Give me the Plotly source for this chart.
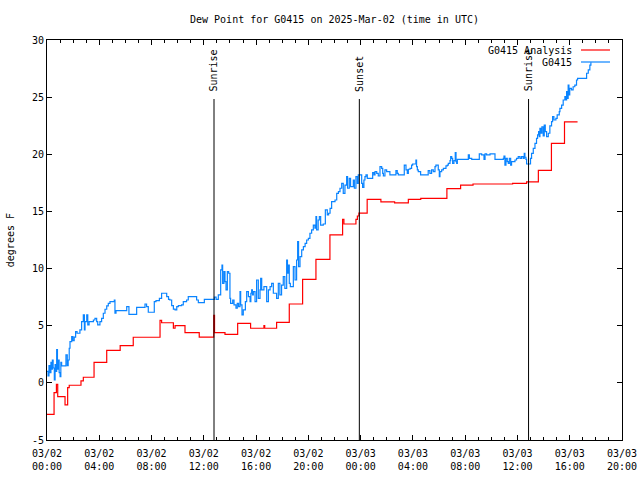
import pandas as pd
import plotly.graph_objects as go

# ---------------- data (hours after 2025-03-02 00:00 UTC) ----------------
analysis_hours = [0.0, 0.54, 0.72, 0.82, 1.38, 1.58, 1.7, 2.6, 2.78, 3.6, 4.57, 5.6, 6.6,
                  8.65, 8.77, 9.67, 9.8, 10.56, 11.65, 12.76, 12.82, 13.62, 14.59, 15.58,
                  16.6, 16.66, 17.57, 18.54, 19.56, 20.58, 21.65, 22.62, 22.72, 23.64,
                  23.75, 23.87, 24.5, 25.55, 26.6, 27.65, 28.6, 30.6, 31.65, 32.6, 35.63,
                  36.7, 37.6, 38.6, 39.6, 40.6]
analysis_dewpt = [-2.75, -0.86, -0.13, -1.21, -1.93, -0.42, -0.21, 0.17, 0.49, 1.8, 2.85, 3.25, 3.99,
                  5.47, 5.26, 4.78, 5.0, 4.4, 4.0, 5.9, 4.4, 4.25, 5.21, 4.78,
                  5.0, 4.78, 5.3, 6.9, 9.06, 10.81, 12.94, 14.31, 13.9, 14.3,
                  14.6, 14.85, 16.06, 15.83, 15.74, 16.06, 16.15, 17.0, 17.31, 17.4, 17.45,
                  17.58, 18.6, 20.96, 22.83, 22.83]

obs_hours = [0.0, 0.08, 0.15, 0.22, 0.3, 0.36, 0.41, 0.47, 0.56, 0.62, 0.68, 0.74, 0.8, 0.87,
             0.93, 1.0, 1.06, 1.12, 1.45, 1.55, 1.62, 1.7, 1.76, 1.89, 1.98, 2.08, 2.19, 2.3,
             2.52, 2.65, 2.78, 2.86, 2.91, 3.04, 3.12, 3.22, 3.42, 3.55, 3.67, 3.8, 3.88, 4.05,
             4.18, 4.31, 4.44, 4.57, 4.69, 4.82, 5.15, 5.2, 5.28, 6.1, 6.27, 6.86, 7.5, 7.62,
             7.75, 8.21, 8.34, 8.6, 8.77, 9.1, 9.16, 9.3, 9.4, 9.54, 9.67, 9.8, 9.93, 10.05,
             10.3, 10.43, 10.68, 10.81, 11.32, 11.45, 11.58, 11.96, 12.04, 12.73, 12.81, 12.94,
             13.11, 13.29, 13.39, 13.44, 13.54, 13.62, 13.7, 13.8, 13.9, 14.0, 14.05, 14.21,
             14.31, 14.46, 14.56, 14.66, 14.77, 14.82, 14.92, 15.02, 15.18, 15.28, 15.41, 15.54,
             15.6, 15.66, 15.72, 15.79, 15.92, 16.04, 16.17, 16.3, 16.35, 16.43, 16.6, 16.75,
             16.81, 16.94, 17.07, 17.19, 17.32, 17.57, 17.7, 17.82, 17.95, 18.08, 18.2, 18.34,
             18.4, 18.47, 18.54, 18.62, 18.78, 18.85, 18.98, 19.1, 19.18, 19.25, 19.36, 19.49,
             19.62, 19.75, 19.87, 20.0, 20.12, 20.25, 20.38, 20.5, 20.58, 20.63, 20.75, 20.84,
             20.94, 21.14, 21.3, 21.45, 21.55, 21.66, 21.78, 21.9, 22.04, 22.17, 22.3, 22.42,
             22.55, 22.67, 22.8, 22.93, 23.0, 23.13, 23.23, 23.44, 23.52, 23.64, 23.75, 23.82,
             23.95, 24.08, 24.15, 24.25, 24.33, 24.41, 24.51, 24.92, 25.02, 25.1, 25.23, 25.35,
             25.48, 25.61, 25.69, 25.74, 25.86, 25.99, 26.24, 26.7, 26.8, 26.88, 27.34, 27.47,
             27.57, 27.65, 27.78, 27.9, 27.98, 28.23, 28.28, 28.34, 28.41, 28.59, 29.17, 29.3,
             29.43, 29.56, 29.69, 29.76, 29.94, 30.02, 30.07, 30.2, 30.33, 30.53, 30.63, 30.71,
             30.84, 30.89, 30.97, 31.04, 31.14, 31.24, 31.3, 31.35, 31.4, 32.24, 32.32, 32.5,
             33.08, 33.26, 33.44, 33.52, 33.64, 33.9, 34.28, 34.92, 34.97, 35.04, 35.12, 35.22,
             35.3, 35.38, 35.48, 35.55, 35.81, 35.93, 36.06, 36.19, 36.31, 36.44, 36.52, 36.57,
             36.65, 36.7, 37.0, 37.08, 37.21, 37.34, 37.46, 37.54, 37.62, 37.67, 37.72, 37.8,
             37.87, 37.97, 38.05, 38.13, 38.23, 38.36, 38.48, 38.61, 38.69, 38.79, 38.94, 39.04,
             39.2, 39.25, 39.38, 39.5, 39.63, 39.68, 39.76, 39.81, 39.88, 39.94, 40.0, 40.13,
             40.26, 40.39, 40.52, 40.6, 41.16, 41.29, 41.42, 41.54, 41.62]
obs_dewpt = [1.0, 0.6, 1.5, 0.9, 1.8, 1.2, 2.0, 1.3, 0.26, 1.6, 1.0, 2.9, 1.2, 2.0,
             0.9, 0.54, 1.8, 1.48, 2.44, 1.5, 2.0, 3.03, 3.6, 4.04, 3.7, 4.0, 4.48, 4.34,
             4.63, 5.35, 5.94, 4.63, 5.35, 5.94, 5.07, 5.35, 5.35, 5.5, 5.65, 5.35, 5.07, 5.35,
             5.65, 6.09, 6.44, 6.73, 6.96, 7.1, 7.25, 6.09, 6.32, 6.67, 6.0, 6.61, 6.9, 6.67,
             6.18, 7.1, 7.19, 7.4, 7.84, 7.84, 7.54, 7.3, 7.25, 6.75, 6.45, 6.38, 6.67, 6.75,
             6.82, 7.1, 7.25, 7.54, 7.54, 7.25, 7.02, 7.02, 7.31, 7.31, 7.5, 7.31,
             7.69, 9.88, 10.31, 8.71, 9.73, 8.85, 8.13, 9.73, 9.59, 7.4, 6.96, 7.25,
             6.82, 6.53, 6.96, 6.67, 7.98, 6.82, 5.94, 6.38, 7.1, 7.98, 7.54, 7.1,
             7.84, 8.13, 7.69, 7.98, 7.1, 9.0, 7.4, 8.13, 9.15, 8.13, 8.42, 8.42,
             7.1, 8.13, 8.42, 8.71, 7.84, 7.4, 8.71, 7.69, 8.56, 9.29, 8.27, 10.75,
             9.59, 10.31, 8.71, 8.42, 8.42, 10.17, 9.0, 10.75, 12.35, 10.17, 11.04, 11.63,
             11.92, 12.21, 12.5, 12.65, 13.09, 13.38, 13.81, 13.53, 14.54, 13.38, 14.25, 14.54,
             13.81, 13.9, 15.13, 14.69, 14.84, 15.27, 15.85, 15.85, 16.0, 16.58, 16.73, 17.03,
             17.46, 16.58, 17.31, 18.04, 17.03, 17.9, 17.17, 17.75, 17.03, 18.04, 17.46, 18.19,
             18.19, 17.46, 17.11, 17.75, 18.04, 18.19, 17.9, 18.39, 18.19, 18.48, 18.33, 18.1,
             18.92, 18.77, 18.33, 18.1, 18.63, 18.48, 18.19, 18.57, 18.33, 18.19, 19.06, 18.63,
             18.33, 18.69, 18.77, 19.06, 19.15, 19.5, 18.92, 18.63, 18.48, 18.19, 18.57, 18.33,
             18.63, 18.48, 18.92, 19.06, 18.63, 18.04, 18.48, 18.63, 18.77, 18.98, 19.06, 19.21,
             19.44, 19.8, 19.65, 19.21, 19.44, 20.14, 19.35, 19.21, 19.56, 19.94, 19.65, 19.56,
             20.03, 19.94, 19.56, 20.03, 19.94, 20.03, 19.56, 19.65, 19.85, 19.06, 19.65, 19.35,
             19.21, 19.65, 19.06, 19.35, 19.5, 19.65, 19.8, 19.65, 19.8, 19.65, 20.08, 19.74,
             19.56, 19.15, 19.65, 20.08, 20.52, 20.96, 21.4, 21.69, 21.98, 21.54, 22.27, 21.84,
             22.41, 21.6, 22.56, 21.98, 21.54, 21.84, 22.48, 22.85, 23.29, 23.0, 23.15, 23.44,
             23.73, 24.02, 24.31, 24.75, 25.04, 24.75, 25.48, 24.9, 26.06, 25.19, 25.77, 25.63,
             25.91, 26.06, 26.5, 26.65, 26.65, 27.09, 27.38, 27.81, 28.05]

event_names = ["Sunrise", "Sunset", "Sunrise"]
event_hours = [12.78, 23.9, 36.85]

series_names = ["G0415 Analysis", "G0415"]
series_colors = ["#ff0000", "#0a84ff"]

tick_hours = [0, 4, 8, 12, 16, 20, 24, 28, 32, 36, 40, 44]
tick_labels = ["03/02<br>00:00", "03/02<br>04:00", "03/02<br>08:00", "03/02<br>12:00",
               "03/02<br>16:00", "03/02<br>20:00", "03/03<br>00:00", "03/03<br>04:00",
               "03/03<br>08:00", "03/03<br>12:00", "03/03<br>16:00", "03/03<br>20:00"]
y_ticks = [-5, 0, 5, 10, 15, 20, 25, 30]
y_labels = ["-5", "0", "5", "10", "15", "20", "25", "30"]

# ---------------- build ----------------
base = pd.Timestamp("2025-03-02 00:00:00")
to_time = lambda hrs: [base + pd.Timedelta(hours=h) for h in hrs]

FONT = "DejaVu Sans Mono"
fig = go.Figure()
fig.add_trace(go.Scatter(x=to_time(analysis_hours), y=analysis_dewpt, mode="lines",
                         line=dict(color=series_colors[0], width=1.2, shape="hv"),
                         name=series_names[0], showlegend=False, hoverinfo="skip"))
fig.add_trace(go.Scatter(x=to_time(obs_hours), y=obs_dewpt, mode="lines",
                         line=dict(color=series_colors[1], width=1.2, shape="hv"),
                         name=series_names[1], showlegend=False, hoverinfo="skip"))

# sunrise / sunset markers
for name, t in zip(event_names, to_time(event_hours)):
    fig.add_shape(type="line", xref="x", yref="paper", x0=t, x1=t, y0=0, y1=0.8525,
                  line=dict(color="black", width=1))
    fig.add_annotation(x=t, xref="x", y=0.866, yref="paper", text=name, textangle=-90,
                       showarrow=False, xanchor="center", yanchor="bottom",
                       font=dict(family=FONT, size=10, color="black"))

# gnuplot-style key (text right, sample line on the right)
key_y = [0.975, 0.945]
for name, color, ky in zip(series_names, series_colors, key_y):
    fig.add_annotation(x=0.9165, xref="paper", y=ky, yref="paper", text=name,
                       showarrow=False, xanchor="right", yanchor="middle",
                       font=dict(family=FONT, size=10, color="black"))
    fig.add_shape(type="line", xref="paper", yref="paper", x0=0.9287, x1=0.9791,
                  y0=ky, y1=ky, line=dict(color=color, width=1.2))

fig.add_annotation(x=-0.064, xref="paper", y=0.5, yref="paper", text="degrees F",
                   textangle=-90, showarrow=False, xanchor="center", yanchor="middle",
                   font=dict(family=FONT, size=10, color="black"))

fig.update_layout(
    width=640, height=480,
    margin=dict(l=47, r=18, t=40, b=40, autoexpand=False),
    paper_bgcolor="white", plot_bgcolor="white",
    font=dict(family=FONT, size=10, color="black"),
    title=dict(text="Dew Point for G0415 on 2025-Mar-02 (time in UTC)", x=0.5, xref="paper",
               xanchor="center", y=1 - 19 / 480, yanchor="middle",
               font=dict(family=FONT, size=10, color="black")),
    showlegend=False,
    hovermode=False,
)
fig.update_xaxes(
    automargin=False,
    range=[base, base + pd.Timedelta(hours=44)],
    tickmode="array", tickvals=to_time(tick_hours), ticktext=tick_labels,
    ticks="inside", ticklen=5, tickwidth=1, tickcolor="black",
    minor=dict(dtick=3600000, tick0=base, ticks="inside", ticklen=3, tickcolor="black"),
    showline=True, linecolor="black", linewidth=1, mirror="ticks",
    showgrid=False, zeroline=False, ticklabelstandoff=4,
    tickfont=dict(family=FONT, size=10, color="black"),
)
fig.update_yaxes(
    automargin=False,
    range=[-5, 30], tickmode="array", tickvals=y_ticks, ticktext=y_labels,
    ticks="inside", ticklen=5, tickwidth=1, tickcolor="black",
    showline=True, linecolor="black", linewidth=1, mirror="ticks",
    showgrid=False, zeroline=False,
    tickfont=dict(family=FONT, size=10, color="black"),
)

fig.write_html("out.html", config={"displayModeBar": False, "staticPlot": True},
               post_script="document.body.style.margin='0';document.body.style.overflow='hidden';")
